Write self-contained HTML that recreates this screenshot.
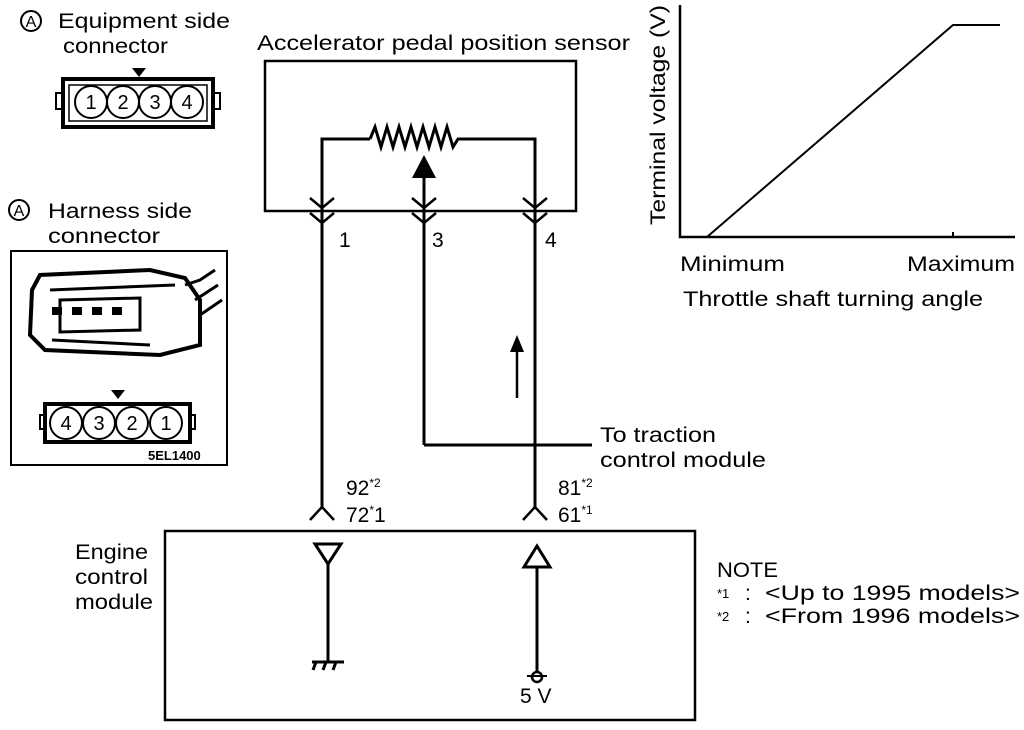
<!DOCTYPE html>
<html><head><style>
body{margin:0;background:#fff}
svg{display:block}
text{font-family:"Liberation Sans",sans-serif;fill:#000}
</style></head><body>
<svg width="1024" height="730" viewBox="0 0 1024 730" xmlns="http://www.w3.org/2000/svg">
<g fill="none" stroke="#000">
<circle cx="31" cy="21" r="10" stroke-width="2"/>
<rect x="63" y="79" width="150" height="48" stroke-width="4"/>
<rect x="69" y="85" width="138" height="36" stroke-width="1.5"/>
<rect x="56" y="93" width="7" height="16" stroke-width="2"/>
<rect x="213" y="93" width="7" height="16" stroke-width="2"/>
<circle cx="91" cy="102" r="16" stroke-width="2"/>
<circle cx="123" cy="102" r="16" stroke-width="2"/>
<circle cx="155" cy="102" r="16" stroke-width="2"/>
<circle cx="187" cy="102" r="16" stroke-width="2"/>
<circle cx="19" cy="210" r="10" stroke-width="2"/>
<rect x="11" y="251" width="216" height="214" stroke-width="2"/>
<path d="M32 290 L40 275 L150 270 L185 278 L200 300 L200 345 L160 355 L45 350 L30 335 Z" stroke-width="4"/>
<path d="M50 290 L175 285 M52 340 L150 345 M60 300 L140 298 L140 330 L60 332 Z" stroke-width="3"/>
<path d="M185 285 L200 280 L215 270 M195 300 L218 285 M200 315 L222 300" stroke-width="3"/>
<rect x="45" y="404" width="145" height="38" stroke-width="4"/>
<rect x="40" y="415" width="6" height="14" stroke-width="2"/>
<rect x="189" y="415" width="6" height="14" stroke-width="2"/>
<circle cx="66" cy="423" r="16" stroke-width="2"/>
<circle cx="99" cy="423" r="16" stroke-width="2"/>
<circle cx="132" cy="423" r="16" stroke-width="2"/>
<circle cx="166" cy="423" r="16" stroke-width="2"/>
<rect x="265" y="61" width="311" height="150" stroke-width="2.5"/>
<path d="M322 250 V139 H370 M535 250 V139 H480" stroke-width="3"/>
<path d="M370 139 l5 -12 l6 20 l6 -20 l6 20 l6 -20 l6 20 l6 -20 l6 20 l6 -20 l6 20 l6 -20 l6 20 l6 -20 l6 20 l5 -8 H480" stroke-width="3"/>
<path d="M424 445 V178" stroke-width="3"/>
<path d="M310 198 L322 208 L334 198 M310 213 L322 223 L334 213 M412 198 L424 208 L436 198 M412 213 L424 223 L436 213 M523 198 L535 208 L547 198 M523 213 L535 223 L547 213" stroke-width="2.5"/>
<path d="M322 250 V507 M535 250 V507 M424 445 H592" stroke-width="3"/>
<path d="M517 398 V345" stroke-width="2.5"/>
<path d="M310 520 L322 507 L334 520 M523 520 L535 507 L547 520" stroke-width="2.5"/>
<path d="M165 531 H695 V720 H165 Z" stroke-width="2.5"/>
<path d="M315 544 L341 544 L328 564 Z" stroke-width="3"/>
<path d="M328 564 V662 M312 662 H344 M316 662 l-3 8 M326 662 l-3 8 M336 662 l-3 8" stroke-width="3"/>
<path d="M537 546 L550 567 L524 567 Z" stroke-width="3"/>
<path d="M537 567 V672" stroke-width="3"/>
<circle cx="537" cy="677" r="5" stroke-width="2.5"/>
<path d="M527 676 H547" stroke-width="2"/>
<path d="M680 5 V237 H1015" stroke-width="2.5"/>
<path d="M707 237 L953 25 H1000" stroke-width="2"/>
<path d="M953 232 V237" stroke-width="2"/>
</g>
<g fill="#000">
<path d="M412 178 L424 155 L436 178 Z"/>
<path d="M510 352 L517 335 L524 352 Z"/>
<path d="M132 68 H146 L139 77 Z"/>
<path d="M111 390 H125 L118 399 Z"/>
<rect x="52" y="307" width="10" height="8"/><rect x="72" y="307" width="10" height="8"/><rect x="92" y="307" width="10" height="8"/><rect x="112" y="307" width="10" height="8"/>
</g>
<g font-size="20" text-anchor="middle">
<text x="91" y="109">1</text><text x="123" y="109">2</text><text x="155" y="109">3</text><text x="187" y="109">4</text>
<text x="66" y="430">4</text><text x="99" y="430">3</text><text x="132" y="430">2</text><text x="166" y="430">1</text>
<text x="31" y="27" font-size="16">A</text>
<text x="19" y="216" font-size="16">A</text>
</g>
<g font-size="21" lengthAdjust="spacingAndGlyphs">
<text x="58" y="28" textLength="172" lengthAdjust="spacingAndGlyphs">Equipment side</text>
<text x="63" y="53" textLength="105" lengthAdjust="spacingAndGlyphs">connector</text>
<text x="48" y="218" textLength="144" lengthAdjust="spacingAndGlyphs">Harness side</text>
<text x="48" y="243" textLength="112" lengthAdjust="spacingAndGlyphs">connector</text>
<text x="257" y="50" textLength="373" lengthAdjust="spacingAndGlyphs">Accelerator pedal position sensor</text>
<text x="339" y="247">1</text><text x="432" y="247">3</text><text x="545" y="247">4</text>
<text x="600" y="442" textLength="116" lengthAdjust="spacingAndGlyphs">To traction</text>
<text x="600" y="467" textLength="166" lengthAdjust="spacingAndGlyphs">control module</text>
<text x="346" y="495">92<tspan font-size="12" dy="-8">*2</tspan></text>
<text x="346" y="522">72<tspan font-size="12" dy="-8">*</tspan><tspan dy="8">1</tspan></text>
<text x="558" y="495">81<tspan font-size="12" dy="-8">*2</tspan></text>
<text x="558" y="522">61<tspan font-size="12" dy="-8">*1</tspan></text>
<text x="75" y="559" textLength="73" lengthAdjust="spacingAndGlyphs">Engine</text>
<text x="75" y="584" textLength="73" lengthAdjust="spacingAndGlyphs">control</text>
<text x="75" y="609" textLength="78" lengthAdjust="spacingAndGlyphs">module</text>
<text x="520" y="703">5  V</text>
<text x="717" y="577" textLength="61" lengthAdjust="spacingAndGlyphs">NOTE</text>
<text x="717" y="598" font-size="13">*1</text><text x="745" y="600">:</text>
<text x="765" y="600" textLength="255" lengthAdjust="spacingAndGlyphs">&lt;Up to 1995 models&gt;</text>
<text x="717" y="621" font-size="13">*2</text><text x="745" y="623">:</text>
<text x="765" y="623" textLength="255" lengthAdjust="spacingAndGlyphs">&lt;From 1996 models&gt;</text>
<text x="680" y="271" textLength="105" lengthAdjust="spacingAndGlyphs">Minimum</text>
<text x="907" y="271" textLength="108" lengthAdjust="spacingAndGlyphs">Maximum</text>
<text x="683" y="306" textLength="300" lengthAdjust="spacingAndGlyphs">Throttle shaft turning angle</text>
<text transform="translate(665,225) rotate(-90)" textLength="220" lengthAdjust="spacingAndGlyphs">Terminal voltage (V)</text>
</g>
<text x="148" y="460" font-size="13" font-weight="bold">5EL1400</text>
</svg>
</body></html>
